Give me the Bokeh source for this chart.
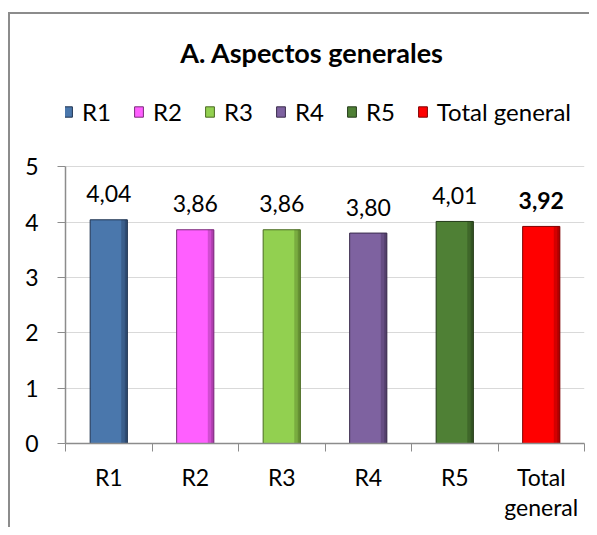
from bokeh.plotting import figure
from bokeh.models import (Range1d, FixedTicker, ColumnDataSource, Legend, LegendItem,
                          Label, CDSView, IndexFilter)
from bokeh.core.properties import value
from bokeh.transform import dodge
from bokeh.embed import file_html
from bokeh.resources import INLINE

title_text = "A. Aspectos generales"
categories = ["R1", "R2", "R3", "R4", "R5", "Total general"]
tick_labels = ["R1", "R2", "R3", "R4", "R5", "Total\ngeneral"]
values = [4.04, 3.86, 3.86, 3.80, 4.01, 3.92]
value_labels = ["4,04", "3,86", "3,86", "3,80", "4,01", "3,92"]
colors = ["#4A77AC", "#FF5FFF", "#92D050", "#7E62A0", "#4F8035", "#FF0000"]
edges = ["#1F3350", "#7A2A7A", "#4A6A22", "#3A2C4C", "#233A18", "#800000"]
y_ticks = [0, 1, 2, 3, 4, 5]

FONT = "Lato"
FS = "23px"
BAR_W = 0.43
n = len(categories)
xs = [i + 0.5 for i in range(n)]
src = ColumnDataSource(dict(x=xs, top=values, cat=categories, color=colors,
                            edge=edges, lab=value_labels))

GREY = "#8C8C8C"
frame_css = (f"linear-gradient({GREY},{GREY}) 8px 12px / 2px 100% no-repeat, "
             f"linear-gradient({GREY},{GREY}) 8px 12px / 100% 2px no-repeat, white")

# y range extends above the value axis to hold title and legend
p = figure(width=589, height=527, output_backend="svg", toolbar_location=None,
           x_range=Range1d(0, n), y_range=Range1d(0, 8),
           min_border_left=65, min_border_right=5, min_border_bottom=84,
           min_border_top=0, outline_line_color=None, background_fill_color=None,
           border_fill_color=None, styles={"background": frame_css})

bars = p.vbar(x="x", top="top", width=BAR_W, source=src, fill_color="color",
              line_color="edge", line_width=1)
# bevel shading on the right side of each bar
p.vbar(x=dodge("x", BAR_W / 2 - 0.035, range=p.x_range), top="top", width=0.07,
       source=src, fill_color="edge", fill_alpha=0.35, line_color=None)
p.vbar(x=dodge("x", BAR_W / 2 - 0.015, range=p.x_range), top="top", width=0.03,
       source=src, fill_color="edge", fill_alpha=0.4, line_color=None)

# axes
xa = p.xaxis[0]
xa.ticker = FixedTicker(ticks=xs, minor_ticks=list(range(n + 1)))
xa.major_label_overrides = {x: t for x, t in zip(xs, tick_labels)}
xa.major_tick_line_color = None
xa.major_tick_out = 0
xa.major_tick_in = 0
xa.minor_tick_out = 8
xa.minor_tick_in = 0
xa.minor_tick_line_color = GREY
xa.axis_line_color = GREY
xa.axis_line_width = 1.5
xa.major_label_standoff = 11
xa.major_label_text_font = FONT
xa.major_label_text_font_size = FS
xa.major_label_text_color = "black"
xa.major_label_text_line_height = 1.1

ya = p.yaxis[0]
ya.ticker = FixedTicker(ticks=y_ticks)
ya.bounds = (min(y_ticks), max(y_ticks))
ya.major_tick_out = 8
ya.major_tick_in = 0
ya.minor_tick_line_color = None
ya.major_tick_line_color = GREY
ya.axis_line_color = GREY
ya.axis_line_width = 1.5
ya.major_label_standoff = 19
ya.major_label_text_font = FONT
ya.major_label_text_font_size = FS
ya.major_label_text_color = "black"

p.xgrid.grid_line_color = None
p.ygrid.grid_line_color = "#D9D9D9"
p.ygrid.ticker = FixedTicker(ticks=y_ticks)

normal_view = CDSView(filter=IndexFilter(list(range(n - 1))))
bold_view = CDSView(filter=IndexFilter([n - 1]))
for view, style in ((normal_view, "normal"), (bold_view, "bold")):
    p.text(x="x", y="top", text="lab", source=src, view=view, y_offset=-26,
           text_align="center", text_baseline="alphabetic",
           text_font_size=FS, text_font=value(FONT), text_font_style=style,
           text_color="black")

title = Label(x=n / 2, y=max(y_ticks), text=title_text, text_align="center",
              text_baseline="alphabetic", x_offset=-13, y_offset=114,
              text_font=FONT, text_font_size="27px", text_font_style="bold",
              text_color="black")
p.add_layout(title)

items = [LegendItem(label=c, renderers=[bars], index=i) for i, c in enumerate(categories)]
legend = Legend(items=items, orientation="horizontal", location=(-3, 317),
                label_text_font=FONT, label_text_font_size="24px", label_text_color="black",
                glyph_width=11, glyph_height=13, label_standoff=9, spacing=22,
                border_line_color=None, background_fill_alpha=0, margin=0, padding=0)
p.add_layout(legend)

open("out.html", "w").write(file_html(p, INLINE))
